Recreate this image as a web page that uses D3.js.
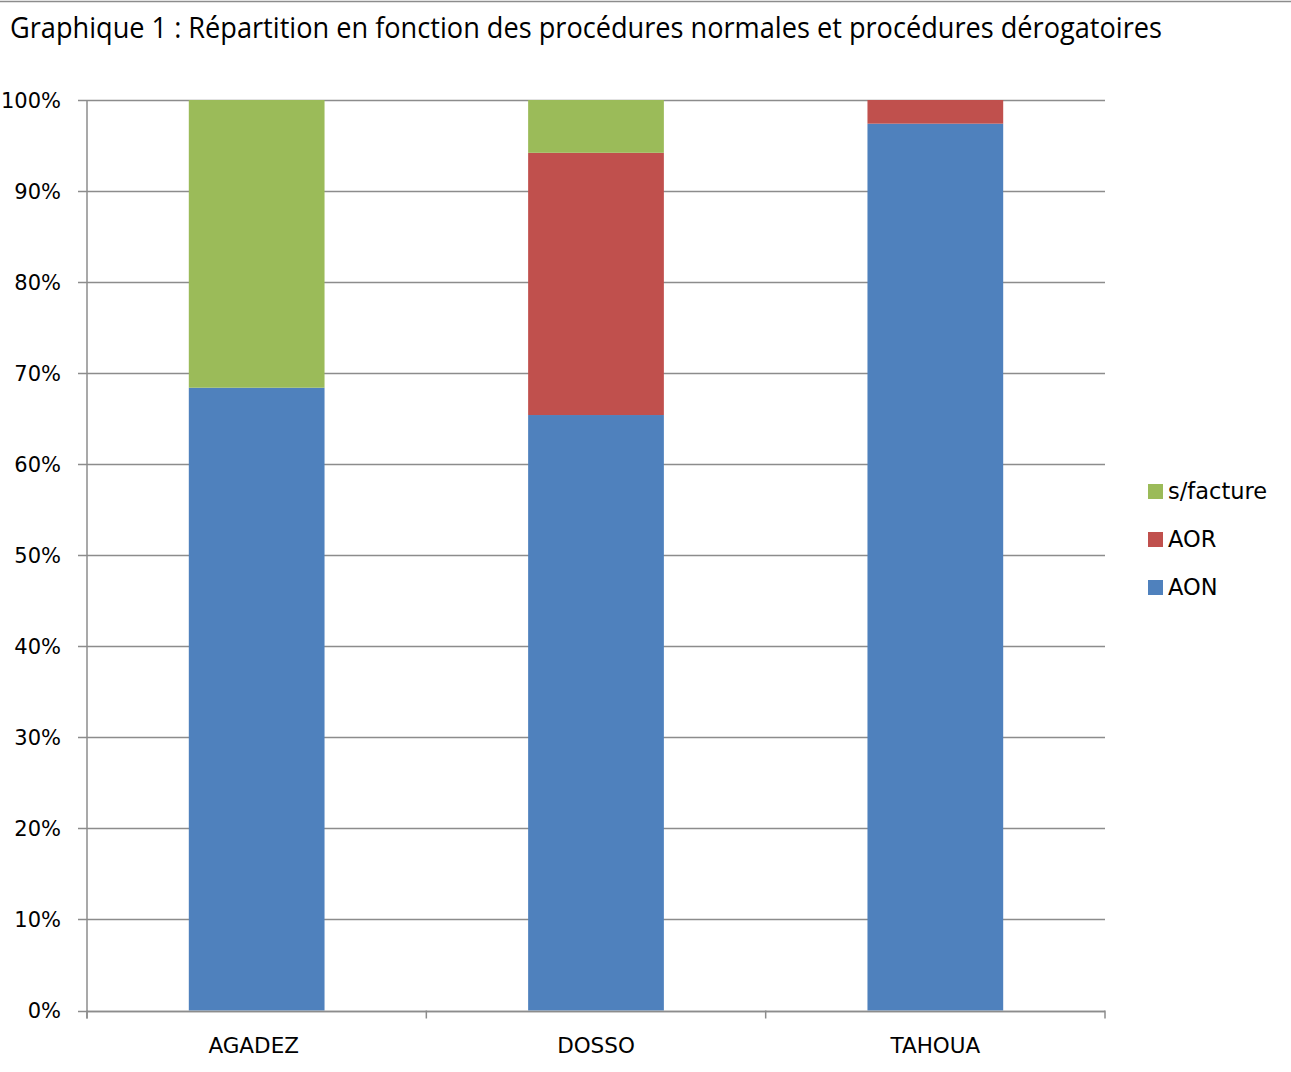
<!DOCTYPE html>
<html><head><meta charset="utf-8">
<script src="https://cdn.jsdelivr.net/npm/d3@7"></script>
<style>body{margin:0;background:#fff}svg{display:block}</style>
</head><body>
<svg id="c" width="1291" height="1072"></svg>
<script>
const categories = ["AGADEZ", "DOSSO", "TAHOUA"];
const seriesNames = ["AON", "AOR", "s/facture"];
const AON = [68.4, 65.4, 97.4];
const AOR = [0, 28.8, 2.6];
const sFacture = [31.6, 5.8, 0];
const yTicks = [0, 10, 20, 30, 40, 50, 60, 70, 80, 90, 100];
const colors = {"AON": "#4F81BD", "AOR": "#C0504D", "s/facture": "#9BBB59"};
const title = "Graphique 1 : Répartition en fonction des procédures normales et procédures dérogatoires";

const svg = d3.select("#c");
const font = "'DejaVu Sans', sans-serif";

svg.append("line").attr("x1",0).attr("x2",1291).attr("y1",1.5).attr("y2",1.5)
  .attr("stroke","#8c8c8c").attr("stroke-width",1.5);

svg.append("text").attr("x",10).attr("y",38).text(title)
  .attr("font-family","'Liberation Sans Narrow','Open Sans',sans-serif")
  .attr("font-size",30).attr("fill","#000")
  .attr("textLength",1152).attr("lengthAdjust","spacingAndGlyphs");

const x0 = 87, x1 = 1105, yTop = 100, yBot = 1010.5;
const x = d3.scaleBand().domain(categories).range([x0, x1]).paddingInner(0.6).paddingOuter(0.3);
const band = d3.scaleBand().domain(categories).range([x0, x1]);
const y = d3.scaleLinear().domain([0,100]).range([yBot, yTop]);

// gridlines
svg.append("g").selectAll("line").data(yTicks).join("line")
  .attr("x1", x0-9).attr("x2", x1).attr("y1", d=>Math.round(y(d))+0.5).attr("y2", d=>Math.round(y(d))+0.5)
  .attr("stroke","#8c8c8c").attr("stroke-width",1.5);

// stacked data
const rows = categories.map((c,i)=>({cat:c, "AON":AON[i], "AOR":AOR[i], "s/facture":sFacture[i]}));
const stack = d3.stack().keys(seriesNames)(rows);
svg.append("g").selectAll("g").data(stack).join("g")
  .attr("fill", d=>colors[d.key])
  .selectAll("rect").data(d=>d).join("rect")
  .attr("x", d=>x(d.data.cat)).attr("width", x.bandwidth())
  .attr("y", d=>y(d[1])).attr("height", d=>y(d[0])-y(d[1]));

// y axis line
svg.append("line").attr("x1",x0).attr("x2",x0).attr("y1",yTop).attr("y2",yBot+8)
  .attr("stroke","#8c8c8c").attr("stroke-width",1.5);
// x axis
svg.append("line").attr("x1",x0).attr("x2",x1).attr("y1",Math.round(yBot)+0.5).attr("y2",Math.round(yBot)+0.5)
  .attr("stroke","#8c8c8c").attr("stroke-width",1.5);
const bounds = categories.map(c=>band(c)).concat([x1]);
svg.append("g").selectAll("line").data(bounds).join("line")
  .attr("x1",d=>d).attr("x2",d=>d).attr("y1",yBot).attr("y2",yBot+8)
  .attr("stroke","#8c8c8c").attr("stroke-width",1.5);

// y labels
svg.append("g").selectAll("text").data(yTicks).join("text")
  .attr("x", 61).attr("y", d=>y(d)+7.5).attr("text-anchor","end")
  .attr("font-family",font).attr("font-size",21).attr("fill","#000")
  .text(d=>d+"%");

// x labels
svg.append("g").selectAll("text").data(categories).join("text")
  .attr("x", d=>band(d)+band.bandwidth()/2 - (d===categories[0]?3:0)).attr("y", 1053).attr("text-anchor","middle")
  .attr("font-family",font).attr("font-size",21.5).attr("fill","#000")
  .text(d=>d);

// legend
const legendOrder = ["s/facture","AOR","AON"];
const lg = svg.append("g").selectAll("g").data(legendOrder).join("g")
  .attr("transform",(d,i)=>`translate(1148,${484+i*48})`);
lg.append("rect").attr("width",15).attr("height",15).attr("fill",d=>colors[d]);
lg.append("text").attr("x",20).attr("y",15).attr("font-family",font).attr("font-size",22.5)
  .attr("fill","#000").text(d=>d);
</script>
</body></html>
